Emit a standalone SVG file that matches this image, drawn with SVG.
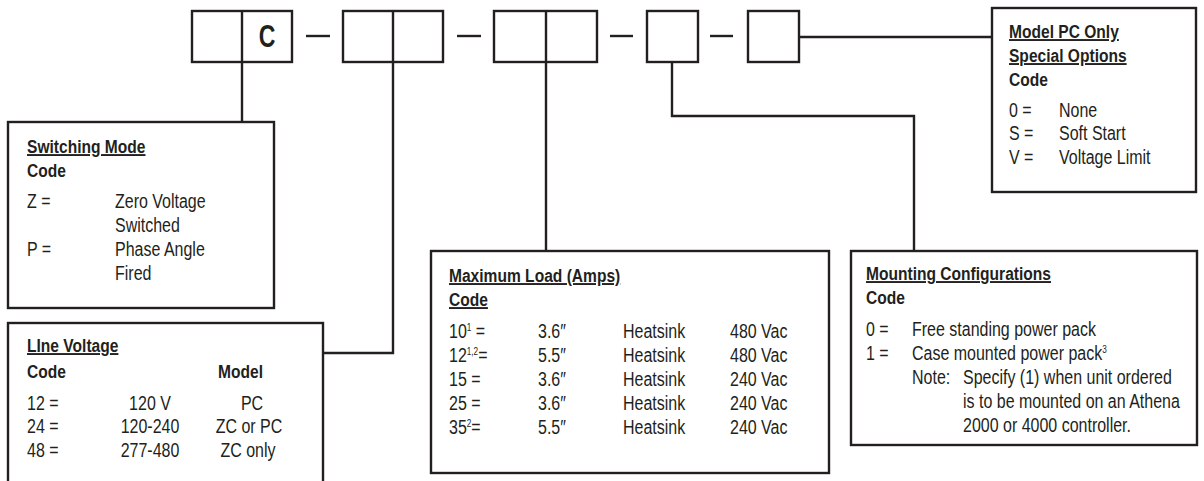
<svg xmlns="http://www.w3.org/2000/svg" width="1204" height="481" viewBox="0 0 1204 481">
<style>
.bx{fill:#fff;stroke:#231f20;stroke-width:2.4}
.ln{fill:none;stroke:#231f20;stroke-width:2.4}
text{font-family:"Liberation Sans",Arial,sans-serif;font-size:19.5px;fill:#231f20;transform:scaleX(.82);transform-box:fill-box;transform-origin:0 50%}
.m{transform-origin:50% 50%}
.h{font-weight:bold;font-size:19px}
.u{text-decoration:underline}
.sup{font-size:10px}
.c{font-weight:bold;font-size:32px;transform:scaleX(.72)}
</style>
<rect width="1204" height="481" fill="#fff"/>
<g id="connectors">
<path class="ln" d="M242 62V122"/>
<path class="ln" d="M393 62V353H323"/>
<path class="ln" d="M546 62V251"/>
<path class="ln" d="M672 62V116H914V251"/>
<path class="ln" d="M799 37H992"/>
</g>
<g id="code-header">
<rect class="bx" x="192" y="11" width="100" height="51"/>
<path class="ln" d="M242 11V62"/>
<text class="c m" x="267" y="47" text-anchor="middle">C</text>
<path class="ln" d="M306 36H330"/>
<rect class="bx" x="343" y="11" width="100" height="51"/>
<path class="ln" d="M393 11V62"/>
<path class="ln" d="M457 36H481"/>
<rect class="bx" x="494" y="11" width="103" height="51"/>
<path class="ln" d="M546 11V62"/>
<path class="ln" d="M610 36H633"/>
<rect class="bx" x="647" y="11" width="51" height="51"/>
<path class="ln" d="M710 36H733"/>
<rect class="bx" x="748" y="11" width="51" height="51"/>
</g>
<g id="switching-mode">
<rect class="bx" x="8" y="122" width="266" height="186"/>
<text class="h u" x="27" y="153">Switching Mode</text>
<text class="h" x="27" y="177">Code</text>
<text x="27" y="208">Z =</text><text x="115" y="208">Zero Voltage</text>
<text x="115" y="232">Switched</text>
<text x="27" y="256">P =</text><text x="115" y="256">Phase Angle</text>
<text x="115" y="280">Fired</text>
</g>
<g id="line-voltage">
<rect class="bx" x="8" y="323" width="315" height="180"/>
<text class="h u" x="27" y="352">LIne Voltage</text>
<text class="h" x="27" y="378">Code</text>
<text class="h" x="218" y="378">Model</text>
<text x="27" y="410">12 =</text><text class="m" x="150" y="410" text-anchor="middle">120 V</text><text class="m" x="252" y="410" text-anchor="middle">PC</text>
<text x="27" y="433">24  =</text><text class="m" x="150" y="433" text-anchor="middle">120-240</text><text class="m" x="249" y="433" text-anchor="middle">ZC or PC</text>
<text x="27" y="457">48  =</text><text class="m" x="150" y="457" text-anchor="middle">277-480</text><text class="m" x="248" y="457" text-anchor="middle">ZC only</text>
</g>
<g id="maximum-load">
<rect class="bx" x="431" y="251" width="398" height="222"/>
<text class="h u" x="449" y="282">Maximum Load (Amps)</text>
<text class="h u" x="449" y="306">Code</text>
<text x="449" y="338">10<tspan class="sup" dy="-7">1</tspan><tspan dy="7"> =</tspan></text>
<text x="449" y="362">12<tspan class="sup" dy="-7">1,2</tspan><tspan dy="7">=</tspan></text>
<text x="449" y="386">15  =</text>
<text x="449" y="410">25  =</text>
<text x="449" y="434">35<tspan class="sup" dy="-7">2</tspan><tspan dy="7">=</tspan></text>
<text x="538" y="338">3.6″</text><text x="623" y="338">Heatsink</text><text x="730" y="338">480 Vac</text>
<text x="538" y="362">5.5″</text><text x="623" y="362">Heatsink</text><text x="730" y="362">480 Vac</text>
<text x="538" y="386">3.6″</text><text x="623" y="386">Heatsink</text><text x="730" y="386">240 Vac</text>
<text x="538" y="410">3.6″</text><text x="623" y="410">Heatsink</text><text x="730" y="410">240 Vac</text>
<text x="538" y="434">5.5″</text><text x="623" y="434">Heatsink</text><text x="730" y="434">240 Vac</text>
</g>
<g id="mounting-configurations">
<rect class="bx" x="851" y="251" width="346" height="194"/>
<text class="h u" x="866" y="280">Mounting Configurations</text>
<text class="h" x="866" y="304">Code</text>
<text x="866" y="336">0  =</text><text x="912" y="336">Free standing power pack</text>
<text x="866" y="360">1  =</text><text x="912" y="360">Case mounted power pack<tspan class="sup" dy="-7">3</tspan></text>
<text x="912" y="384">Note:</text><text x="963" y="384">Specify (1) when unit ordered</text>
<text x="963" y="408">is to be mounted on an Athena</text>
<text x="963" y="432">2000 or 4000 controller.</text>
</g>
<g id="special-options">
<rect class="bx" x="992" y="8" width="204" height="184"/>
<text class="h u" x="1009" y="38">Model PC Only</text>
<text class="h u" x="1009" y="62">Special Options</text>
<text class="h" x="1009" y="86">Code</text>
<text x="1009" y="117">0 =</text><text x="1059" y="117">None</text>
<text x="1009" y="140">S =</text><text x="1059" y="140">Soft Start</text>
<text x="1009" y="164">V =</text><text x="1059" y="164">Voltage Limit</text>
</g>
</svg>
